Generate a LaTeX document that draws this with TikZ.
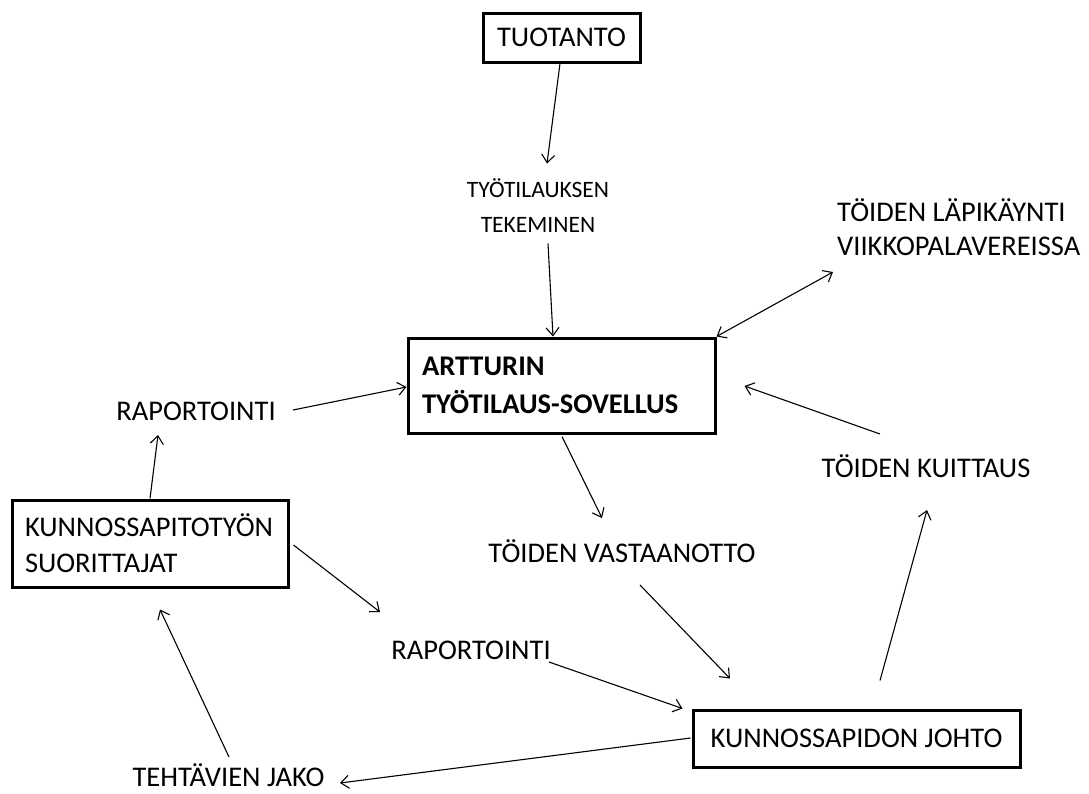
\documentclass[tikz,border=0pt]{standalone}
\usepackage{fontspec}
\setmainfont{Carlito}
\usetikzlibrary{arrows.meta,calc}
\begin{document}
\begin{tikzpicture}[x=1pt,y=-1pt,
  box/.style={draw, line width=3pt, inner sep=0pt},
  big/.style={font=\fontsize{28.5}{37}\selectfont},
  lbl/.style={inner sep=0pt, big},
  small/.style={inner sep=0pt, align=center, font=\fontsize{23.5}{35}\selectfont},
  arr/.style={line width=1.1pt, -{Straight Barb[length=8pt,width=13pt]}},
  darr/.style={line width=1.1pt, {Straight Barb[length=8pt,width=13pt]}-{Straight Barb[length=8pt,width=13pt]}}]
\useasboundingbox (0,0) rectangle (1089,793);
% boxes
\node[box, big, minimum width=157pt, minimum height=49pt] (tuo) at (561.5,37.5) {TUOTANTO};
\node[box, minimum width=307pt, minimum height=95pt, text width=279pt, inner xsep=14pt, align=left,
      font=\fontsize{28.5}{38}\selectfont\bfseries] (art) at (561.5,385.5) {ARTTURIN\\TYÖTILAUS-SOVELLUS};
\node[box, minimum width=276pt, minimum height=87pt, text width=250pt, inner xsep=13pt, align=left,
      font=\fontsize{28.5}{36}\selectfont] (kun) at (150,543.5) {KUNNOSSAPITOTYÖN\\SUORITTAJAT};
\node[box, big, minimum width=327pt, minimum height=57pt] (joh) at (856.5,738.5) {KUNNOSSAPIDON JOHTO};
% labels
\node[small] (tyo) at (538,205.5) {TYÖTILAUKSEN\\TEKEMINEN};
\node[lbl, anchor=west, align=left, font=\fontsize{28.5}{34}\selectfont] (lap) at (837,227) {TÖIDEN LÄPIKÄYNTI\\VIIKKOPALAVEREISSA};
\node[lbl, anchor=base] (rap1) at (196,420) {RAPORTOINTI};
\node[lbl, anchor=base] (kuit) at (926,477) {TÖIDEN KUITTAUS};
\node[lbl, anchor=base] (vast) at (622,562) {TÖIDEN VASTAANOTTO};
\node[lbl, anchor=base] (rap2) at (471,659) {RAPORTOINTI};
\node[lbl, anchor=base] (teh) at (228.5,786) {TEHTÄVIEN JAKO};
% connectors
\draw[arr] ($(tuo.south)+(-1.5,0)$) -- ($(tyo.center)+(9,-42)$);
\draw[arr] ($(tyo.center)+(10,38)$) -- ($(art.north)+(-8.5,0)$);
\draw[arr] ($(rap1.base)+(97,-10)$) -- ($(art.west)+(0,1.5)$);
\draw[darr] (art.north east) -- ($(lap.west)+(-4,45)$);
\draw[arr] ($(kuit.base)+(-46,-43)$) -- ($(art.east)+(28,0.5)$);
\draw[arr] ($(art.south)+(0.5,2)$) -- ($(vast.base)+(-20,-44)$);
\draw[arr] ($(vast.base)+(18,23)$) -- ($(joh.north)+(-126.5,-30)$);
\draw[arr] ($(rap2.base)+(78,3)$) -- ($(joh.north west)+(-9,0)$);
\draw[arr] ($(joh.north)+(23.5,-28)$) -- ($(kuit.base)+(1,33)$);
\draw[arr] ($(joh.west)+(-1,-0.5)$) -- ($(teh.base)+(111.5,-3)$);
\draw[arr] ($(teh.base)+(0.5,-29)$) -- ($(kun.south)+(10,21)$);
\draw[arr] (kun.north) -- ($(rap1.base)+(-38,15)$);
\draw[arr] ($(kun.east)+(4,1.5)$) -- ($(rap2.base)+(-91,-47)$);
\end{tikzpicture}
\end{document}
